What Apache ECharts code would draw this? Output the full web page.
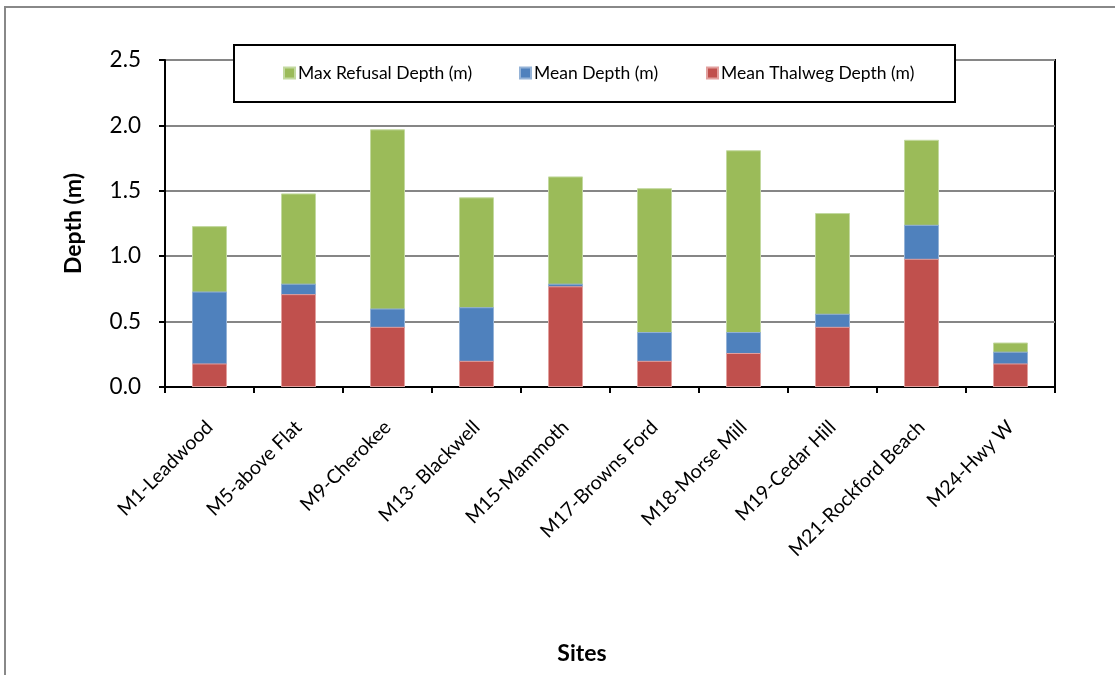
<!DOCTYPE html>
<html>
<head>
<meta charset="utf-8">
<script src="https://cdn.jsdelivr.net/npm/echarts@6/dist/echarts.min.js"></script>
<style>html,body{margin:0;padding:0;background:#fff}#c{width:1115px;height:675px}</style>
</head>
<body>
<div id="c"></div>
<script>
const sites = ['M1-Leadwood','M5-above Flat','M9-Cherokee','M13- Blackwell','M15-Mammoth','M17-Browns Ford','M18-Morse Mill','M19-Cedar Hill','M21-Rockford Beach','M24-Hwy W'];
const maxRefusal = [1.23, 1.48, 1.97, 1.45, 1.61, 1.52, 1.81, 1.33, 1.89, 0.34];
const meanDepth = [0.73, 0.79, 0.60, 0.61, 0.79, 0.42, 0.42, 0.56, 1.24, 0.27];
const meanThalweg = [0.18, 0.71, 0.46, 0.20, 0.77, 0.20, 0.26, 0.46, 0.98, 0.18];
const seriesNames = ['Max Refusal Depth (m)', 'Mean Depth (m)', 'Mean Thalweg Depth (m)'];
const yTicks = [0, 0.5, 1.0, 1.5, 2.0, 2.5];

const FONT = 'Lato';
const chart = echarts.init(document.getElementById('c'), null, {renderer: 'canvas'});
const legendBase = {
  top: 64, itemWidth: 11, itemHeight: 11, z: 10, padding: 0,
  icon: 'rect',
  textStyle: {fontFamily: FONT, fontSize: 17.5, color: '#000', padding: [0,0,0,-2]}
};
chart.setOption({
  animation: false,
  textStyle: {fontFamily: FONT},
  grid: {left: 165, right: 60, top: 60, bottom: 288, show: true, borderColor: '#000', borderWidth: 2, backgroundColor: 'transparent'},
  legend: [
    Object.assign({}, legendBase, {left: 283, data: [seriesNames[0]]}),
    Object.assign({}, legendBase, {left: 519, data: [seriesNames[1]]}),
    Object.assign({}, legendBase, {left: 706, data: [seriesNames[2]]})
  ],
  graphic: [
    {type: 'rect', shape: {x: 5, y: 7, width: 1200, height: 800}, style: {fill: 'none', stroke: '#888', lineWidth: 2}, z: 0, silent: true},
    {type: 'rect', shape: {x: 234, y: 45, width: 721, height: 57}, style: {fill: '#fff', stroke: '#000', lineWidth: 2}, z: 5, zlevel: 0, silent: true},
    {type: 'text', x: 582, y: 654, style: {text: 'Sites', fontFamily: FONT, fontWeight: 'bold', fontSize: 23, fill: '#000', textAlign: 'center', textVerticalAlign: 'middle'}, z: 5}
  ],
  xAxis: {
    type: 'category', data: sites,
    axisLine: {lineStyle: {color: '#000', width: 2}},
    axisTick: {show: true, length: 6, lineStyle: {color: '#000', width: 2}},
    axisLabel: {rotate: 45, margin: 37, fontSize: 19.5, color: '#000', fontFamily: FONT, interval: 0}
  },
  yAxis: {
    type: 'value', min: 0, max: 2.5, interval: 0.5,
    name: 'Depth (m)', nameLocation: 'middle', nameGap: 80, nameRotate: 90,
    nameTextStyle: {fontFamily: FONT, fontWeight: 'bold', fontSize: 23, color: '#000'},
    axisLine: {show: true, lineStyle: {color: '#000', width: 2}},
    axisTick: {show: true, length: 6, lineStyle: {color: '#000', width: 2}},
    axisLabel: {fontSize: 22.5, color: '#000', margin: 24, fontFamily: FONT,
      formatter: v => yTicks.includes(v) ? v.toFixed(1) : ''},
    splitLine: {show: true, lineStyle: {color: '#868686', width: 2}}
  },
  series: [
    {name: seriesNames[0], type: 'bar', data: maxRefusal, barWidth: 35, barGap: '-100%', itemStyle: {color: '#9BBB59', borderColor: '#c3d9a0', borderWidth: 1}, z: 2},
    {name: seriesNames[1], type: 'bar', data: meanDepth, barWidth: 35, barGap: '-100%', itemStyle: {color: '#4F81BD', borderColor: '#95b3d7', borderWidth: 1}, z: 3},
    {name: seriesNames[2], type: 'bar', data: meanThalweg, barWidth: 35, barGap: '-100%', itemStyle: {color: '#C0504D', borderColor: '#e2a09e', borderWidth: 1}, z: 4}
  ]
});
</script>
</body>
</html>
